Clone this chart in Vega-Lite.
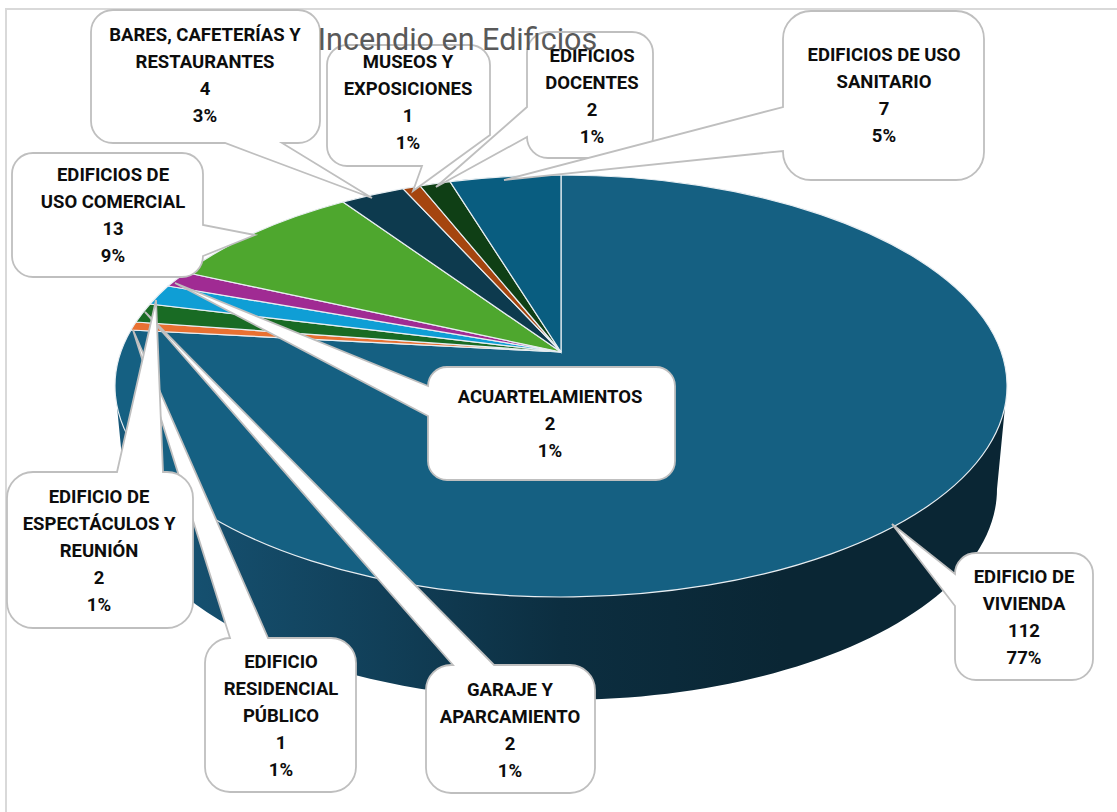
{
"$schema":"https://vega.github.io/schema/vega-lite/v6.json",
"width":1117,"height":812,"autosize":"none","padding":0,"background":"#ffffff",
"title":{"text":"Incendio en Edificios","anchor":"middle","offset":0,"dy":56,"dx":-101,"font":"Roboto","fontSize":30.5,"fontWeight":"normal","color":"#595959"},
"config":{"view":{"stroke":null}},
"datasets":{"incendios":[
{"categoria":"EDIFICIO DE VIVIENDA","valor":112,"porcentaje":"77%","etiqueta":"EDIFICIO DE\nVIVIENDA\n112\n77%"},
{"categoria":"EDIFICIO RESIDENCIAL PÚBLICO","valor":1,"porcentaje":"1%","etiqueta":"EDIFICIO\nRESIDENCIAL\nPÚBLICO\n1\n1%"},
{"categoria":"GARAJE Y APARCAMIENTO","valor":2,"porcentaje":"1%","etiqueta":"GARAJE Y\nAPARCAMIENTO\n2\n1%"},
{"categoria":"EDIFICIO DE ESPECTÁCULOS Y REUNIÓN","valor":2,"porcentaje":"1%","etiqueta":"EDIFICIO DE\nESPECTÁCULOS Y\nREUNIÓN\n2\n1%"},
{"categoria":"ACUARTELAMIENTOS","valor":2,"porcentaje":"1%","etiqueta":"ACUARTELAMIENTOS\n2\n1%"},
{"categoria":"EDIFICIOS DE USO COMERCIAL","valor":13,"porcentaje":"9%","etiqueta":"EDIFICIOS DE\nUSO COMERCIAL\n13\n9%"},
{"categoria":"BARES, CAFETERÍAS Y RESTAURANTES","valor":4,"porcentaje":"3%","etiqueta":"BARES, CAFETERÍAS Y\nRESTAURANTES\n4\n3%"},
{"categoria":"MUSEOS Y EXPOSICIONES","valor":1,"porcentaje":"1%","etiqueta":"MUSEOS Y\nEXPOSICIONES\n1\n1%"},
{"categoria":"EDIFICIOS DOCENTES","valor":2,"porcentaje":"1%","etiqueta":"EDIFICIOS\nDOCENTES\n2\n1%"},
{"categoria":"EDIFICIOS DE USO SANITARIO","valor":7,"porcentaje":"5%","etiqueta":"EDIFICIOS DE USO\nSANITARIO\n7\n5%"}
]},
"data":{"name":"incendios"},
"encoding":{
"x":{"datum":0,"type":"quantitative","scale":{"domain":[0,1117],"range":[0,1117]},"axis":null},
"y":{"datum":0,"type":"quantitative","scale":{"domain":[0,812],"range":[0,812]},"axis":null}
},
"resolve":{"scale":{"shape":"independent","fill":"independent"}},
"layer":[
{"transform":[{"filter":"datum.valor==112"}],"mark":{"type":"point","filled":false,"opacity":1,"size":4,"stroke":"#d9d9d9","strokeWidth":2,"shape":"M6 830 V9 H1140"}},
{"transform":[{"filter":"datum.valor==112"}],"mark":{"type":"point","filled":true,"opacity":1,"size":4,"shape":"M115 386 L125 489 A436 211 0 0 0 997 489 L1007 386 Z","fill":{"gradient":"linear","x1":0,"x2":1,"y1":0,"y2":0,"stops":[{"offset":0,"color":"#17587a"},{"offset":0.1,"color":"#154f6e"},{"offset":0.3,"color":"#113f58"},{"offset":0.5,"color":"#0c2e40"},{"offset":0.75,"color":"#0a2634"},{"offset":1,"color":"#0a2634"}]}}},
{"mark":{"type":"point","filled":true,"opacity":1,"size":4,"stroke":"#e8eef2","strokeWidth":1.2},
"encoding":{
"shape":{"field":"categoria","type":"nominal","legend":null,"scale":{"domain":["EDIFICIO DE VIVIENDA","EDIFICIO RESIDENCIAL PÚBLICO","GARAJE Y APARCAMIENTO","EDIFICIO DE ESPECTÁCULOS Y REUNIÓN","ACUARTELAMIENTOS","EDIFICIOS DE USO COMERCIAL","BARES, CAFETERÍAS Y RESTAURANTES","MUSEOS Y EXPOSICIONES","EDIFICIOS DOCENTES","EDIFICIOS DE USO SANITARIO"],
"range":["M561 352 L131 330 A446 211 0 1 0 561 175 Z","M561 352 L136 322 A446 211 0 0 0 131 330 Z","M561 352 L150 304 A446 211 0 0 0 136 322 Z","M561 352 L168 286 A446 211 0 0 0 150 304 Z","M561 352 L186 272.5 A446 211 0 0 0 168 286 Z","M561 352 L343 202 A446 211 0 0 0 186 272.5 Z","M561 352 L403 188.7 A446 211 0 0 0 343 202 Z","M561 352 L420 185.8 A446 211 0 0 0 403 188.7 Z","M561 352 L450 181.6 A446 211 0 0 0 420 185.8 Z","M561 352 L561 175 A446 211 0 0 0 450 181.6 Z"]}},
"fill":{"field":"categoria","type":"nominal","legend":null,"scale":{"domain":["EDIFICIO DE VIVIENDA","EDIFICIO RESIDENCIAL PÚBLICO","GARAJE Y APARCAMIENTO","EDIFICIO DE ESPECTÁCULOS Y REUNIÓN","ACUARTELAMIENTOS","EDIFICIOS DE USO COMERCIAL","BARES, CAFETERÍAS Y RESTAURANTES","MUSEOS Y EXPOSICIONES","EDIFICIOS DOCENTES","EDIFICIOS DE USO SANITARIO"],
"range":["#156082","#e97132","#196b24","#0f9ed5","#a02b93","#4ea72e","#0d3a4e","#a5450f","#0f3f15","#095d80"]}}
}},
{"mark":{"type":"point","filled":true,"opacity":1,"size":4,"fill":"#ffffff","stroke":"#bfbfbf","strokeWidth":1.8},
"encoding":{
"shape":{"field":"categoria","type":"nominal","legend":null,"scale":{"domain":["EDIFICIO DE VIVIENDA","EDIFICIO RESIDENCIAL PÚBLICO","GARAJE Y APARCAMIENTO","EDIFICIO DE ESPECTÁCULOS Y REUNIÓN","ACUARTELAMIENTOS","EDIFICIOS DE USO COMERCIAL","BARES, CAFETERÍAS Y RESTAURANTES","MUSEOS Y EXPOSICIONES","EDIFICIOS DOCENTES","EDIFICIOS DE USO SANITARIO"],
"range":[
"M976 553 H1072 A21 21 0 0 1 1093 574 V659 A21 21 0 0 1 1072 680 H976 A21 21 0 0 1 955 659 V606 L892 524 L955 574 A21 21 0 0 1 976 553 Z",
"M230 638 L133 330 L268 638 H331 A25 25 0 0 1 356 663 V767 A25 25 0 0 1 331 792 H230 A25 25 0 0 1 205 767 V663 A25 25 0 0 1 230 638 Z",
"M453 665 L145 312 L494 665 H570 A25 25 0 0 1 595 690 V768 A25 25 0 0 1 570 793 H451 A25 25 0 0 1 426 768 V690 A25 25 0 0 1 451 665 Z",
"M33 472 H117 L156 300 L163 472 H167 A26 26 0 0 1 193 498 V602 A26 26 0 0 1 167 628 H33 A26 26 0 0 1 7 602 V498 A26 26 0 0 1 33 472 Z",
"M447 367 H656 A19 19 0 0 1 675 386 V461 A19 19 0 0 1 656 480 H447 A19 19 0 0 1 428 461 V416 L175 283 L428 386 A19 19 0 0 1 447 367 Z",
"M33 153 H182 A21 21 0 0 1 203 174 V225 L255 235 L203 256 A21 21 0 0 1 182 277 H33 A21 21 0 0 1 12 256 V174 A21 21 0 0 1 33 153 Z",
"M113 10 H298 A22 22 0 0 1 320 32 V121 A22 22 0 0 1 298 143 H282 L372 198 L225 143 H113 A22 22 0 0 1 91 121 V32 A22 22 0 0 1 113 10 Z",
"M347 45 H470 A20 20 0 0 1 490 65 V135 L413 191 L422 166 H347 A20 20 0 0 1 327 146 V65 A20 20 0 0 1 347 45 Z",
"M548 32 H632 A21 21 0 0 1 653 53 V137 A21 21 0 0 1 632 158 H548 A21 21 0 0 1 527 137 L436 187 L527 107 V53 A21 21 0 0 1 548 32 Z",
"M811 11 H956 A28 28 0 0 1 984 39 V152 A28 28 0 0 1 956 180 H811 A28 28 0 0 1 783 152 V151 L504 180 L783 107 V39 A28 28 0 0 1 811 11 Z"
]}}
}},
{"transform":[{"filter":"datum.valor==112"}],"mark":{"type":"text","dx":1024,"dy":577,"align":"center","baseline":"middle","lineBreak":"\n","lineHeight":27,"font":"Roboto","fontWeight":"bold","fontSize":18.5,"color":"#0d0d0d"},"encoding":{"text":{"field":"etiqueta"}}},
{"transform":[{"filter":"datum.categoria=='GARAJE Y APARCAMIENTO'"}],"mark":{"type":"text","dx":510,"dy":690,"align":"center","baseline":"middle","lineBreak":"\n","lineHeight":27,"font":"Roboto","fontWeight":"bold","fontSize":18.5,"color":"#0d0d0d"},"encoding":{"text":{"field":"etiqueta"}}},
{"transform":[{"filter":"datum.categoria=='EDIFICIO RESIDENCIAL PÚBLICO'"}],"mark":{"type":"text","dx":281,"dy":662,"align":"center","baseline":"middle","lineBreak":"\n","lineHeight":27,"font":"Roboto","fontWeight":"bold","fontSize":18.5,"color":"#0d0d0d"},"encoding":{"text":{"field":"etiqueta"}}},
{"transform":[{"filter":"datum.categoria=='EDIFICIO DE ESPECTÁCULOS Y REUNIÓN'"}],"mark":{"type":"text","dx":99,"dy":497,"align":"center","baseline":"middle","lineBreak":"\n","lineHeight":27,"font":"Roboto","fontWeight":"bold","fontSize":18.5,"color":"#0d0d0d"},"encoding":{"text":{"field":"etiqueta"}}},
{"transform":[{"filter":"datum.categoria=='ACUARTELAMIENTOS'"}],"mark":{"type":"text","dx":550,"dy":397,"align":"center","baseline":"middle","lineBreak":"\n","lineHeight":27,"font":"Roboto","fontWeight":"bold","fontSize":18.5,"color":"#0d0d0d"},"encoding":{"text":{"field":"etiqueta"}}},
{"transform":[{"filter":"datum.categoria=='EDIFICIOS DE USO COMERCIAL'"}],"mark":{"type":"text","dx":113,"dy":175,"align":"center","baseline":"middle","lineBreak":"\n","lineHeight":27,"font":"Roboto","fontWeight":"bold","fontSize":18.5,"color":"#0d0d0d"},"encoding":{"text":{"field":"etiqueta"}}},
{"transform":[{"filter":"datum.categoria=='BARES, CAFETERÍAS Y RESTAURANTES'"}],"mark":{"type":"text","dx":205,"dy":35,"align":"center","baseline":"middle","lineBreak":"\n","lineHeight":27,"font":"Roboto","fontWeight":"bold","fontSize":18.5,"color":"#0d0d0d"},"encoding":{"text":{"field":"etiqueta"}}},
{"transform":[{"filter":"datum.categoria=='MUSEOS Y EXPOSICIONES'"}],"mark":{"type":"text","dx":408,"dy":62,"align":"center","baseline":"middle","lineBreak":"\n","lineHeight":27,"font":"Roboto","fontWeight":"bold","fontSize":18.5,"color":"#0d0d0d"},"encoding":{"text":{"field":"etiqueta"}}},
{"transform":[{"filter":"datum.categoria=='EDIFICIOS DOCENTES'"}],"mark":{"type":"text","dx":592,"dy":56,"align":"center","baseline":"middle","lineBreak":"\n","lineHeight":27,"font":"Roboto","fontWeight":"bold","fontSize":18.5,"color":"#0d0d0d"},"encoding":{"text":{"field":"etiqueta"}}},
{"transform":[{"filter":"datum.categoria=='EDIFICIOS DE USO SANITARIO'"}],"mark":{"type":"text","dx":884,"dy":55,"align":"center","baseline":"middle","lineBreak":"\n","lineHeight":27,"font":"Roboto","fontWeight":"bold","fontSize":18.5,"color":"#0d0d0d"},"encoding":{"text":{"field":"etiqueta"}}}
]
}
